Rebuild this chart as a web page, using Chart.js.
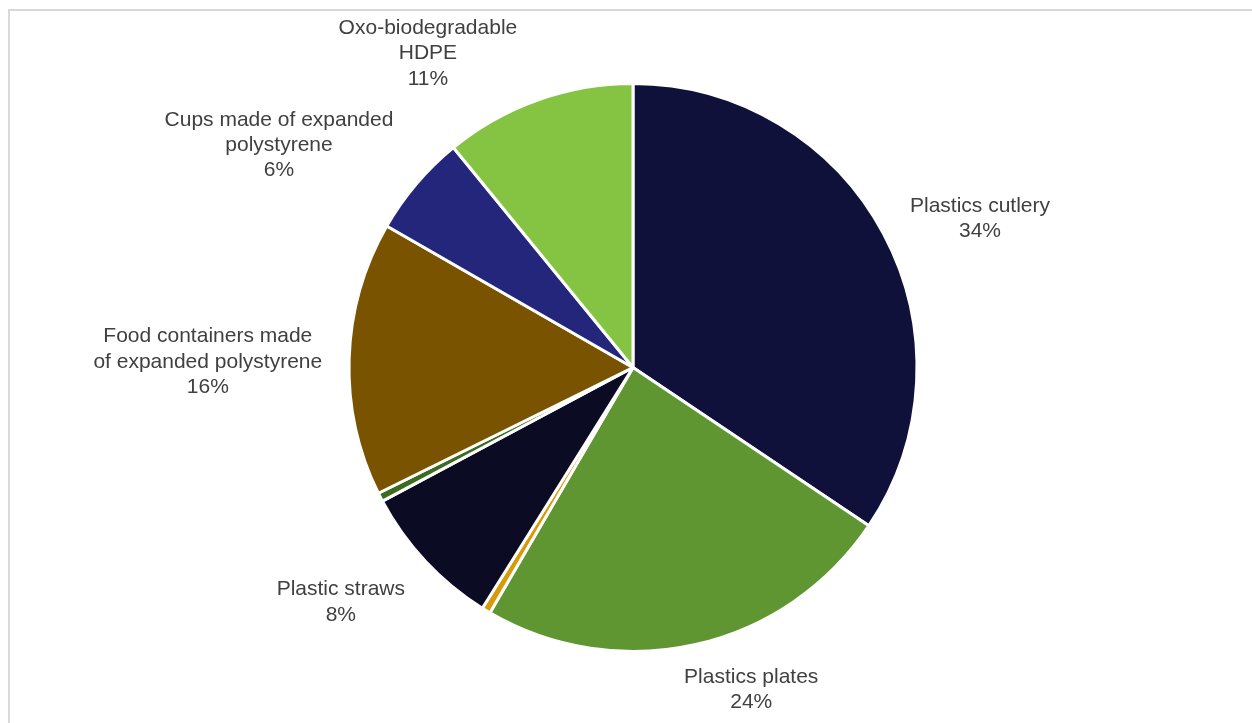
<!DOCTYPE html>
<html>
<head>
<meta charset="utf-8">
<script src="https://cdn.jsdelivr.net/npm/chart.js@4.4.0/dist/chart.umd.min.js"></script>
<style>
    html, body { margin: 0; padding: 0; background: #ffffff; }
    .chart-box { position: relative; width: 1252px; height: 723px; }
</style>
</head>
<body>
<div class="chart-box">
    <canvas id="plasticsChart"></canvas>
</div>
<script>
// Share of single-use plastic items (slices clockwise from 12 o'clock)
const categories = [
    'Plastics cutlery',
    'Plastics plates',
    null,
    'Plastic straws',
    null,
    ['Food containers made', 'of expanded polystyrene'],
    ['Cups made of expanded', 'polystyrene'],
    ['Oxo-biodegradable', 'HDPE']
];
const values = [34.4, 24.0, 0.5, 8.3, 0.5, 15.6, 5.8, 10.9];
const sliceColors = ['#10113a', '#5f9632', '#d69a0a', '#0b0b24', '#3d6b1f', '#7a5300', '#23267b', '#84c442'];

// small shifts so labels sit where the original chart put them
const labelNudge = [[17, 6], [35, 1], [0, 0], [-23, 10], [0, 0], [-7, 5], [-35, -1], [-73, 8]];
const lineH = 25.3;

const frameBorder = {
    id: 'frameBorder',
    beforeDraw(chart) {
        const ctx = chart.ctx;
        ctx.save();
        ctx.fillStyle = '#ffffff';
        ctx.fillRect(0, 0, chart.width, chart.height);
        ctx.strokeStyle = '#d9d9d9';
        ctx.lineWidth = 2;
        ctx.strokeRect(9, 10, chart.width + 20, chart.height + 20);
        ctx.restore();
    }
};

const outsideLabels = {
    id: 'outsideLabels',
    afterDatasetsDraw(chart) {
        const ctx = chart.ctx;
        const meta = chart.getDatasetMeta(0);
        const total = values.reduce((a, b) => a + b, 0);
        ctx.save();
        ctx.font = '21px "Liberation Sans", Arial, sans-serif';
        ctx.fillStyle = '#404040';
        ctx.textAlign = 'center';
        ctx.textBaseline = 'middle';
        meta.data.forEach((arc, i) => {
            const name = categories[i];
            if (!name) return;
            const lines = [].concat(name, Math.round(values[i] / total * 100) + '%');
            const p = arc.getProps(['x', 'y', 'startAngle', 'endAngle', 'outerRadius'], true);
            const mid = (p.startAngle + p.endAngle) / 2;
            const dx = Math.cos(mid);
            const dy = Math.sin(mid);
            const w = Math.max(...lines.map(l => ctx.measureText(l).width));
            const h = lines.length * lineH;
            const r = p.outerRadius + 20;
            const cx = p.x + dx * r + dx * w / 2 + labelNudge[i][0];
            const cy = p.y + dy * r + dy * h / 2 + labelNudge[i][1];
            lines.forEach((l, j) => {
                ctx.fillText(l, cx, cy + (j - (lines.length - 1) / 2) * lineH);
            });
        });
        ctx.restore();
    }
};

document.addEventListener('DOMContentLoaded', function() {
    const ctx = document.getElementById('plasticsChart').getContext('2d');
    new Chart(ctx, {
        type: 'pie',
        data: {
            labels: categories.map(c => c || ''),
            datasets: [{
                data: values,
                backgroundColor: sliceColors,
                borderColor: '#ffffff',
                borderWidth: 3,
                hoverBorderWidth: 3
            }]
        },
        options: {
            responsive: true,
            maintainAspectRatio: false,
            animation: false,
            events: [],
            layout: {
                padding: { top: 82, bottom: 70, left: 14, right: 0 }
            },
            plugins: {
                legend: { display: false },
                tooltip: { enabled: false }
            }
        },
        plugins: [frameBorder, outsideLabels]
    });
});
</script>
</body>
</html>
